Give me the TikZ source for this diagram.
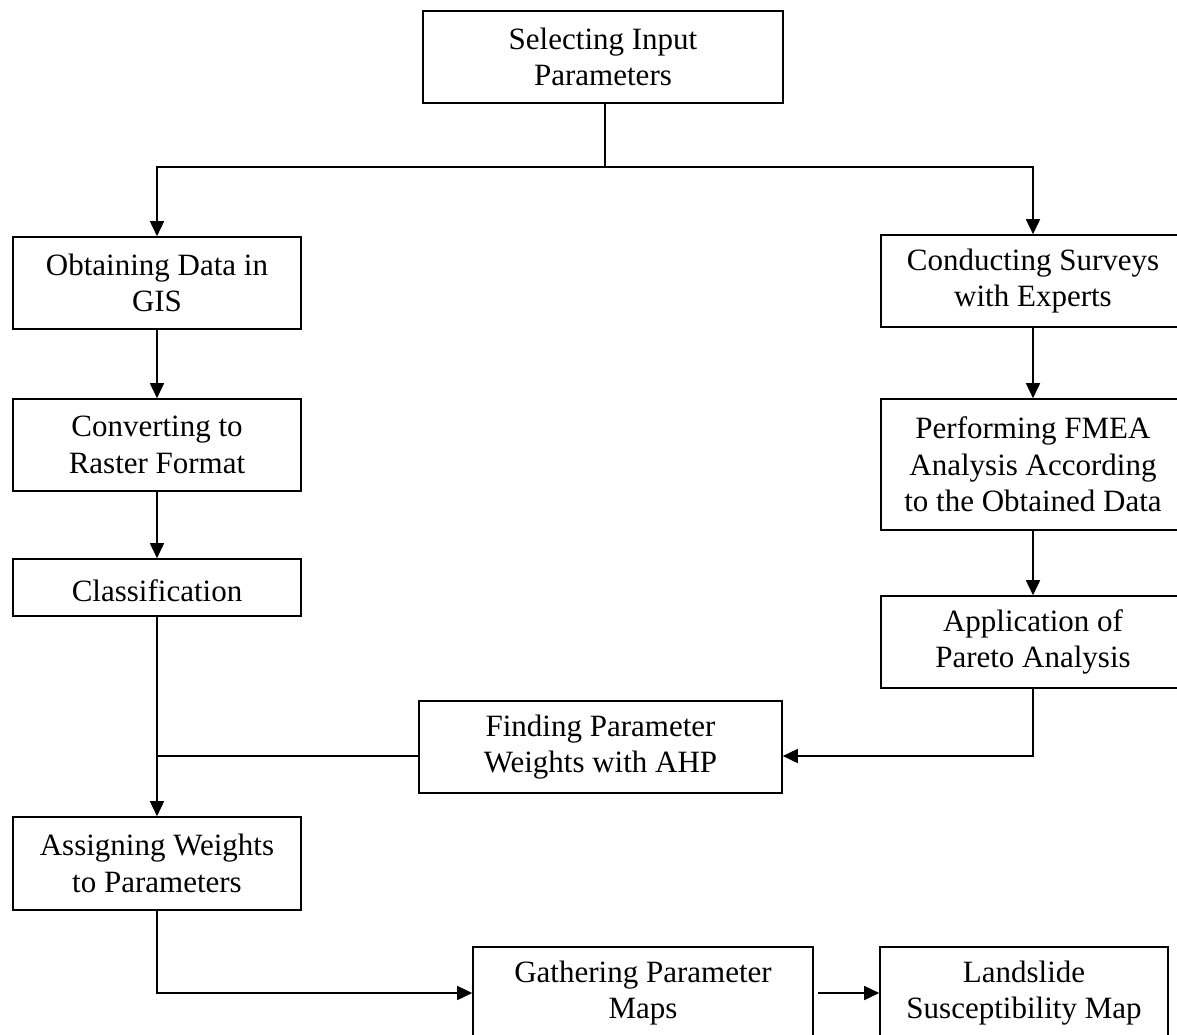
\documentclass[tikz,border=0pt]{standalone}
\usepackage{fontspec}
\setmainfont{Liberation Serif}
\usetikzlibrary{arrows.meta}
\begin{document}
\begin{tikzpicture}[x=1pt,y=-1pt,
  box/.style={draw, line width=1.6pt, align=center, inner sep=0pt,
    font=\fontsize{31}{36.5}\selectfont,
    execute at begin node={\rule{0pt}{28pt}}},
  conn/.style={line width=1.6pt},
  arr/.style={conn, -{Triangle[length=15pt,width=14pt]}}]
\useasboundingbox (0,0) rectangle (1177,1034);
\fill[white] (0,0) rectangle (1177,1034);
\clip (0,0) rectangle (1177,1034);
\node[box, minimum width=360pt, minimum height=92pt] (sel) at (603,57) {Selecting Input\\Parameters};
\node[box, minimum width=288pt, minimum height=92pt] (gis) at (157,283) {Obtaining Data in\\GIS};
\node[box, minimum width=304pt, minimum height=92pt] (surv) at (1033,281) {Conducting Surveys\\with Experts};
\node[box, minimum width=288pt, minimum height=92pt] (raster) at (157,445) {Converting to\\Raster Format};
\node[box, minimum width=304pt, minimum height=131pt] (fmea) at (1033,464.5) {Performing FMEA\\Analysis According\\to the Obtained Data};
\node[box, minimum width=288pt, minimum height=57pt] (class) at (157,587.5) {Classification};
\node[box, minimum width=304pt, minimum height=92pt] (pareto) at (1033,642) {Application of\\Pareto Analysis};
\node[box, minimum width=363pt, minimum height=92pt] (ahp) at (600.5,747) {Finding Parameter\\Weights with AHP};
\node[box, minimum width=288pt, minimum height=93pt] (assign) at (157,863.5) {Assigning Weights\\to Parameters};
\node[box, minimum width=340pt, minimum height=92pt] (gather) at (643,993) {Gathering Parameter\\Maps};
\node[box, minimum width=288pt, minimum height=92pt] (land) at (1024,993) {Landslide\\Susceptibility Map};
\coordinate (split) at (605,167);
\coordinate (m1) at (157,756);
\draw[conn] (sel.south -| split) -- (split);
\draw[arr] (split) -| (gis.north);
\draw[arr] (split) -| (surv.north);
\draw[arr] (gis) -- (raster);
\draw[arr] (raster) -- (class);
\draw[arr] (class) -- (assign);
\draw[conn] (ahp.west |- m1) -- (m1);
\draw[arr] (surv) -- (fmea);
\draw[arr] (fmea) -- (pareto);
\draw[arr] (pareto.south) |- (ahp.east |- m1);
\draw[arr] (assign.south) |- (gather.west);
\draw[arr] ([xshift=4pt]gather.east) -- (land.west);
\end{tikzpicture}
\end{document}
